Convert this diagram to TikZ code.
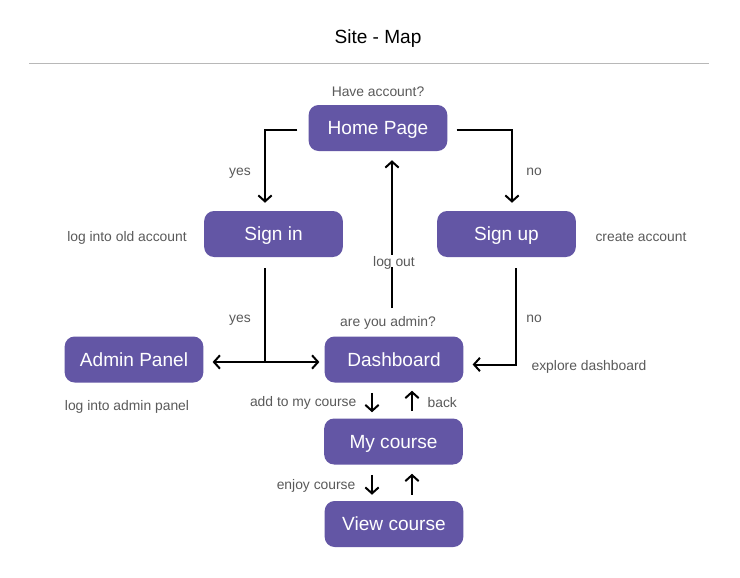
\documentclass[tikz,border=0pt]{standalone}
\usepackage{fontspec}
\setmainfont{Liberation Sans}
\usetikzlibrary{arrows.meta,calc}
\definecolor{boxpurple}{HTML}{6356A5}
\definecolor{lblgrey}{HTML}{5A5A5A}
\begin{document}
\begin{tikzpicture}[x=0.75pt,y=-0.75pt,
  box/.style={fill=boxpurple,text=white,rounded corners=7.5pt,minimum width=104pt,minimum height=34.5pt,inner sep=0pt,text height=10.2pt,text depth=0pt,font=\fontsize{14.3}{16}\selectfont},
  lbl/.style={text=lblgrey,font=\fontsize{10.4}{12}\selectfont,inner sep=1pt,text height=7.5pt,text depth=0pt},
  conn/.style={line width=1.5pt,black},
  arr/.style={conn,-{Straight Barb[length=4.5pt,width=10pt,line width=1.5pt]}},
  arrb/.style={conn,{Straight Barb[length=4.5pt,width=10pt,line width=1.5pt]}-{Straight Barb[length=4.5pt,width=10pt,line width=1.5pt]}}]
\useasboundingbox (0,0) rectangle (740,578);
\fill[white] (0,0) rectangle (740,578);
% title
\node[font=\fontsize{14.3}{16}\selectfont,text height=10.2pt,text depth=0pt,inner sep=1pt] (title) at (378,37) {Site - Map};
\draw[line width=0.75pt,black!28] (29,63) coordinate (tl) -- (709,63) coordinate (tr);
% boxes
\node[box] (home) at (378,128) {Home Page};
\node[box] (signin) at (273.5,234) {Sign in};
\node[box] (signup) at (506.5,234) {Sign up};
\node[box] (admin) at (134,359.5) {Admin Panel};
\node[box] (dash) at (394,359.5) {Dashboard};
\node[box] (mycourse) at (393.5,441.5) {My course};
\node[box] (view) at (394,524) {View course};
% connectors
\draw[arr] ($(home.west)+(-11,2)$) -| ($(signin.north)+(-8.5,-8)$);
\draw[arr] ($(home.east)+(9,2)$) -| ($(signup.north)+(5.5,-8)$);
\draw[arr] ($(dash.north)+(-2,-28)$) -- ($(home.south)+(14,9)$);
\coordinate (jn) at ($(signin.south)+(-8.5,105)$);
\draw[conn] ($(signin.south)+(-8.5,11)$) -- (jn);
\draw[arrb] ($(admin.east)+(9,2.5)$) -- ($(dash.west)+(-5,2.5)$);
\draw[arr] ($(signup.south)+(9.5,11)$) |- ($(dash.east)+(9,5)$);
\draw[arr] ($(dash.south)+(-22,10)$) -- ($(mycourse.north)+(-21.5,-6)$);
\draw[arr] ($(mycourse.north)+(18.5,-7)$) -- ($(dash.south)+(18,8)$);
\draw[arr] ($(mycourse.south)+(-21.5,10)$) -- ($(view.north)+(-22,-6)$);
\draw[arr] ($(view.north)+(18,-6)$) -- ($(mycourse.south)+(18.5,9)$);
% labels
\node[lbl] (l1) at (378,91) {Have account?};
\node[lbl] (l2) at (240,170) {yes};
\node[lbl] (l3) at (534,170) {no};
\node[lbl] (l4) at (127,236) {log into old account};
\node[lbl] (l5) at (641,236) {create account};
\node[lbl,fill=white] (l6) at (394,261) {log out};
\node[lbl] (l7) at (240,317) {yes};
\node[lbl] (l8) at (388,321) {are you admin?};
\node[lbl] (l9) at (534,317) {no};
\node[lbl] (l10) at (127,405) {log into admin panel};
\node[lbl] (l11) at (589,365) {explore dashboard};
\node[lbl,anchor=east] (l12) at (358,401) {add to my course};
\node[lbl,anchor=west] (l13) at (426,402) {back};
\node[lbl,anchor=east] (l14) at (357,484) {enjoy course};
\end{tikzpicture}
\end{document}
